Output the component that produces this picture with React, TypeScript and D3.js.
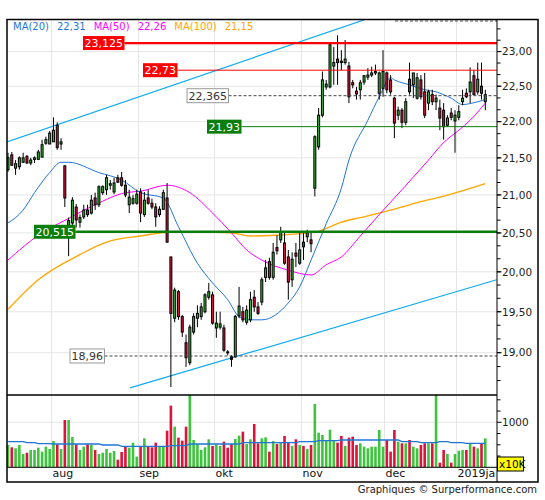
import { useEffect, useRef } from 'react';
import * as d3 from 'd3';

// trading-day index of the first session of each month
const monthStarts = [11, 34, 54, 77, 99, 118];
const monthLabels = ['aug', 'sep', 'okt', 'nov', 'dec', '2019ja'];

// daily candles, jul 17 2018 -> jan 14 2019
const opens = [
  21.34, 21.54, 21.36, 21.38, 21.44, 21.52, 21.43, 21.48, 21.48, 21.51,
  21.70, 21.69, 21.72, 21.95, 21.69, 21.39, 20.60, 20.63, 20.84, 20.64,
  20.71, 20.80, 20.76, 20.96, 20.87, 21.03, 21.07, 21.13, 21.04, 21.23,
  21.23, 21.13, 20.87, 20.89, 20.89, 21.04, 20.74, 20.96, 20.89, 20.84,
  20.74, 20.81, 20.96, 20.19, 19.42, 19.75, 19.44, 19.12, 18.88, 19.25,
  19.42, 19.44, 19.50, 19.68, 19.71, 19.30, 19.31, 19.30, 19.01, 18.95,
  18.95, 19.45, 19.50, 19.37, 19.40, 19.68, 19.56, 19.62, 19.93, 20.13,
  19.93, 20.31, 20.41, 20.37, 20.19, 19.90, 20.24, 20.11, 20.38, 20.45,
  20.41, 21.09, 21.65, 22.09, 22.49, 22.49, 22.79, 22.89, 22.86, 22.84,
  22.79, 22.55, 22.43, 22.45, 22.56, 22.63, 22.66, 22.69, 22.40, 22.47,
  22.69, 22.59, 22.33, 22.09, 22.16, 21.99, 22.60, 22.52, 22.33, 22.59,
  22.42, 22.26, 22.38, 22.28, 22.19, 22.16, 21.95, 22.12, 22.01, 22.06,
  22.28, 22.40, 22.42, 22.65, 22.42, 22.50, 22.28,
];
const highs = [
  21.57, 21.58, 21.47, 21.52, 21.57, 21.54, 21.50, 21.52, 21.61, 21.75,
  21.79, 21.87, 22.06, 21.99, 21.77, 21.40, 20.70, 20.97, 20.88, 20.74,
  20.87, 20.87, 21.00, 21.03, 21.13, 21.13, 21.27, 21.20, 21.23, 21.27,
  21.31, 21.20, 21.07, 21.00, 21.07, 21.09, 21.04, 21.07, 20.95, 20.89,
  20.85, 21.07, 21.16, 20.19, 19.80, 19.77, 19.46, 19.22, 19.34, 19.48,
  19.58, 19.61, 19.73, 19.86, 19.75, 19.50, 19.50, 19.34, 19.03, 18.97,
  19.46, 19.81, 19.56, 19.58, 19.75, 19.77, 19.62, 19.93, 20.15, 20.18,
  20.37, 20.47, 20.58, 20.50, 20.28, 20.25, 20.37, 20.51, 20.51, 20.54,
  20.51, 21.81, 22.19, 22.71, 22.59, 23.12, 23.07, 23.24, 23.02, 23.17,
  22.85, 22.59, 22.49, 22.59, 22.66, 22.76, 22.78, 22.81, 22.71, 23.02,
  22.71, 22.66, 22.35, 22.21, 22.19, 22.33, 22.84, 22.69, 22.69, 22.66,
  22.69, 22.45, 22.45, 22.38, 22.31, 22.26, 22.09, 22.19, 22.16, 22.23,
  22.45, 22.47, 22.77, 22.73, 22.84, 22.84, 22.45,
];
const lows = [
  21.31, 21.39, 21.27, 21.34, 21.43, 21.42, 21.40, 21.43, 21.47, 21.51,
  21.68, 21.69, 21.72, 21.61, 21.61, 20.84, 20.20, 20.60, 20.57, 20.57,
  20.68, 20.71, 20.74, 20.80, 20.84, 21.00, 21.00, 21.07, 21.01, 21.16,
  21.11, 20.97, 20.76, 20.87, 20.87, 20.64, 20.71, 20.87, 20.81, 20.58,
  20.71, 20.80, 20.38, 18.59, 19.37, 19.40, 19.19, 18.83, 18.85, 19.22,
  19.31, 19.40, 19.48, 19.65, 19.34, 19.18, 19.28, 19.01, 18.97, 18.83,
  18.94, 19.42, 19.37, 19.34, 19.37, 19.50, 19.46, 19.58, 19.87, 19.90,
  19.90, 20.22, 20.37, 20.09, 19.65, 19.81, 20.06, 20.09, 20.15, 20.38,
  20.25, 20.98, 21.61, 22.06, 22.45, 22.47, 22.52, 22.52, 22.73, 22.81,
  22.26, 22.47, 22.31, 22.31, 22.52, 22.59, 22.63, 22.66, 22.31, 22.35,
  22.40, 22.38, 21.77, 22.02, 21.91, 21.95, 22.38, 22.33, 22.31, 22.31,
  22.05, 22.16, 22.23, 22.16, 21.88, 21.75, 21.93, 22.02, 21.57, 22.02,
  22.23, 22.33, 22.26, 22.38, 22.38, 22.31, 22.16,
];
const closes = [
  21.50, 21.40, 21.42, 21.50, 21.50, 21.43, 21.47, 21.50, 21.58, 21.68,
  21.75, 21.84, 21.88, 21.64, 21.72, 20.96, 20.66, 20.93, 20.67, 20.70,
  20.80, 20.74, 20.93, 20.87, 21.11, 21.11, 21.23, 21.15, 21.16, 21.17,
  21.13, 21.00, 20.97, 20.95, 21.01, 20.76, 20.93, 20.89, 20.84, 20.71,
  20.81, 21.03, 20.38, 19.48, 19.77, 19.44, 19.25, 18.94, 19.31, 19.44,
  19.48, 19.56, 19.71, 19.75, 19.36, 19.36, 19.35, 19.03, 19.00, 18.92,
  19.44, 19.57, 19.40, 19.52, 19.65, 19.56, 19.48, 19.90, 20.05, 19.93,
  20.25, 20.27, 20.51, 20.11, 19.87, 20.16, 20.20, 20.28, 20.32, 20.50,
  20.36, 21.79, 22.09, 22.59, 22.53, 23.10, 22.84, 22.84, 22.84, 22.89,
  22.35, 22.52, 22.39, 22.55, 22.65, 22.66, 22.69, 22.71, 22.69, 22.71,
  22.45, 22.42, 21.98, 22.16, 21.99, 22.28, 22.42, 22.69, 22.62, 22.35,
  22.09, 22.42, 22.28, 22.33, 22.05, 21.93, 22.05, 22.06, 22.09, 22.14,
  22.33, 22.35, 22.56, 22.38, 22.60, 22.40, 22.38,
];
// volume in x10K
const volumes = [
  496, 444, 422, 496, 296, 324, 385, 385, 436, 348,
  459, 407, 585, 511, 407, 1051, 1051, 674, 511, 385,
  459, 511, 496, 385, 296, 324, 407, 324, 363, 170,
  341, 459, 436, 548, 237, 459, 644, 459, 444, 548,
  474, 474, 814, 1370, 903, 659, 593, 903, 1750, 607,
  518, 385, 444, 622, 474, 511, 474, 570, 436, 518,
  629, 703, 792, 518, 622, 962, 533, 644, 666, 348,
  585, 518, 548, 696, 548, 474, 622, 496, 474, 407,
  496, 1407, 770, 718, 593, 836, 607, 548, 696, 474,
  659, 681, 496, 533, 459, 422, 459, 459, 829, 459,
  607, 348, 829, 570, 533, 533, 607, 459, 422, 496,
  533, 533, 533, 1750, 103, 385, 296, 103, 296, 370,
  385, 385, 533, 459, 422, 533, 644,
];

// moving averages
const ma20Idx = [0, 4, 7, 11, 14, 16, 24, 30, 35, 41, 45, 50, 54, 58, 61, 64, 67, 74, 77, 80, 84, 88, 90, 95, 98, 101, 102, 106, 110, 113, 117, 120, 124, 126];
const ma20Val = [20.63, 20.80, 21.03, 21.30, 21.44, 21.44, 21.30, 21.20, 21.03, 20.96, 20.58, 20.11, 19.86, 19.65, 19.44, 19.40, 19.40, 19.61, 19.81, 20.15, 20.62, 21.09, 21.47, 22.02, 22.35, 22.62, 22.59, 22.52, 22.45, 22.42, 22.33, 22.24, 22.28, 22.31];
const ma50Idx = [0, 8, 16, 23, 31, 35, 42, 48, 54, 59, 63, 67, 74, 80, 84, 88, 93, 98, 104, 111, 115, 119, 122, 126];
const ma50Val = [20.15, 20.47, 20.69, 20.87, 21.03, 21.05, 21.13, 21.03, 20.76, 20.50, 20.28, 20.15, 20.02, 19.96, 20.09, 20.19, 20.46, 20.74, 21.07, 21.47, 21.71, 21.88, 22.02, 22.26];
const ma100Idx = [0, 8, 19, 26, 35, 43, 51, 59, 64, 71, 77, 82, 85, 88, 93, 98, 104, 109, 114, 119, 126];
const ma100Val = [19.53, 19.90, 20.22, 20.38, 20.46, 20.51, 20.51, 20.50, 20.46, 20.47, 20.49, 20.52, 20.58, 20.64, 20.70, 20.76, 20.84, 20.91, 20.97, 21.04, 21.15];
const maNames = ['MA(20)', 'MA(50)', 'MA(100)'];
const maLast = [22.31, 22.26, 21.15];

const volMaIdx = [0, 4, 5, 7, 8, 11, 12, 24, 25, 29, 30, 42, 43, 47, 48, 61, 62, 76, 77, 81, 82, 87, 88, 103, 104, 108, 109, 113, 114, 116, 117, 120, 121, 126];
const volMaVal = [570, 570, 548, 548, 526, 526, 518, 518, 496, 496, 466, 466, 481, 481, 518, 518, 548, 548, 570, 570, 592, 592, 607, 607, 570, 570, 548, 548, 570, 570, 548, 548, 533, 533];

// trend lines (two anchors each: day index, price)
const trendUpIdx = [-0.8, 85.8];
const trendUpVal = [21.71, 23.31];
const trendLowIdx = [32.2, 129.0];
const trendLowVal = [18.58, 19.9];

// horizontal levels
const levelValues = [23.125, 22.73, 22.365, 21.93, 20.515, 18.96];
const topDashLevel = 23.45;

const priceTicks = [19, 19.5, 20, 20.5, 21, 21.5, 22, 22.5, 23];

const GREEN = '#0a7d0a';
const RED = '#ff0000';
const levelStyles = [
  { left: 83, stroke: RED, width: 2.2, dash: null, fill: RED, text: '#fff' },
  { left: 143, stroke: RED, width: 1, dash: null, fill: RED, text: '#fff' },
  { left: 187, stroke: '#444', width: 1, dash: '3,2', fill: '#fff', text: '#333' },
  { left: 207, stroke: GREEN, width: 1, dash: null, fill: GREEN, text: '#fff' },
  { left: 34, stroke: GREEN, width: 2.5, dash: null, fill: GREEN, text: '#fff' },
  { left: 70, stroke: '#444', width: 1, dash: '3,2', fill: '#fff', text: '#333' },
];

const comma = (v: number, d: number) => d3.format(`.${d}f`)(v).replace('.', ',');

export default function App() {
  const ref = useRef<SVGSVGElement>(null);

  useEffect(() => {
    if (!ref.current) return;
    const svg = d3.select(ref.current);
    svg.selectAll('*').remove();
    const font = '"DejaVu Sans", Verdana, sans-serif';

    const L = 7, R = 497, T = 20, MB = 395, VB = 467.3, FB = 482, FR = 538;

    const x = d3.scaleLinear().domain([0, 118]).range([8, 455]);
    const y = d3.scaleLog().domain([18.5, 23.47]).range([394.7, 19.7]);
    const yv = d3.scaleLinear().domain([0, 1000]).range([VB, VB - 45]);

    const defs = svg.append('defs');
    defs.append('clipPath').attr('id', 'clipMain').append('rect').attr('x', L).attr('y', T).attr('width', R - L).attr('height', MB - T);
    defs.append('clipPath').attr('id', 'clipVol').append('rect').attr('x', L).attr('y', MB).attr('width', R - L).attr('height', VB - MB);

    svg.append('rect').attr('width', 545).attr('height', 500).attr('fill', '#fff');

    // grid
    const grid = svg.append('g').attr('stroke', '#e6e6e6').attr('stroke-width', 1);
    priceTicks.forEach((p) => {
      grid.append('line').attr('x1', L).attr('x2', R).attr('y1', y(p)).attr('y2', y(p));
    });
    grid.append('line').attr('x1', L).attr('x2', R).attr('y1', yv(1000)).attr('y2', yv(1000));
    monthStarts.forEach((i) => {
      const gx = Math.round(x(i)) + 1.5;
      grid.append('line').attr('x1', gx).attr('x2', gx).attr('y1', T).attr('y2', VB);
    });

    const main = svg.append('g').attr('clip-path', 'url(#clipMain)');

    // trend lines
    const trend = (idx: number[], val: number[], from: number, to: number) => {
      const x1 = x(idx[0]), y1 = y(val[0]), x2 = x(idx[1]), y2 = y(val[1]);
      const k = (y2 - y1) / (x2 - x1);
      const a = x(from), b = x(to);
      main.append('line')
        .attr('x1', a).attr('y1', y1 + k * (a - x1))
        .attr('x2', b).attr('y2', y1 + k * (b - x1))
        .attr('stroke', '#11aaee').attr('stroke-width', 1.2);
    };
    trend(trendUpIdx, trendUpVal, trendUpIdx[0], 140);
    trend(trendLowIdx, trendLowVal, trendLowIdx[0], trendLowIdx[1]);

    // moving averages
    const maLine = d3.line<[number, number]>().x((d) => x(d[0])).y((d) => y(d[1])).curve(d3.curveMonotoneX);
    const drawMa = (idx: number[], val: number[], color: string, w: number) => {
      main.append('path')
        .datum(idx.map((d, k) => [d, val[k]] as [number, number]))
        .attr('fill', 'none').attr('stroke', color).attr('stroke-width', w)
        .attr('d', maLine);
    };
    drawMa(ma100Idx, ma100Val, '#ffa500', 1.3);
    drawMa(ma50Idx, ma50Val, '#ff00ff', 1);
    drawMa(ma20Idx, ma20Val, '#1f75d6', 1);

    // candles
    const candles = main.append('g');
    opens.forEach((o, i) => {
      const c = closes[i];
      const cx = x(i);
      candles.append('line')
        .attr('x1', cx).attr('x2', cx)
        .attr('y1', y(highs[i])).attr('y2', y(lows[i]))
        .attr('stroke', '#000').attr('stroke-width', 1);
      const top = y(Math.max(o, c));
      const h = Math.max(1, Math.abs(y(o) - y(c)));
      candles.append('rect')
        .attr('x', cx - 1).attr('y', top).attr('width', 2).attr('height', h)
        .attr('fill', c >= o ? '#35b935' : '#dc143c')
        .attr('stroke', '#000').attr('stroke-width', 1);
    });

    // top dashed level
    main.append('line')
      .attr('x1', 395).attr('x2', R).attr('y1', y(topDashLevel)).attr('y2', y(topDashLevel))
      .attr('stroke', '#555').attr('stroke-dasharray', '3,2');

    // horizontal levels with boxes
    levelValues.forEach((v, k) => {
      const st = levelStyles[k];
      const ly = y(v);
      const label = comma(v, String(v).split('.')[1]?.length === 3 ? 3 : 2);
      const t = svg.append('text')
        .attr('font-family', font).attr('font-size', 11).attr('fill', st.text)
        .text(label);
      const tw = (t.node() as SVGTextElement).getComputedTextLength();
      const bw = tw + 3;
      const line = main.append('line')
        .attr('x1', st.left + bw).attr('x2', R).attr('y1', ly).attr('y2', ly)
        .attr('stroke', st.stroke).attr('stroke-width', st.width);
      if (st.dash) line.attr('stroke-dasharray', st.dash);
      svg.insert('rect', () => t.node() as any)
        .attr('x', st.left).attr('y', ly - 7).attr('width', bw).attr('height', 14)
        .attr('fill', st.fill)
        .attr('stroke', st.fill === '#fff' ? '#999' : 'none');
      t.attr('x', st.left + 1.5).attr('y', ly + 4);
    });

    // volume
    const vol = svg.append('g').attr('clip-path', 'url(#clipVol)');
    volumes.forEach((v, i) => {
      vol.append('rect')
        .attr('x', x(i) - 1.3).attr('width', 2.6)
        .attr('y', yv(v)).attr('height', VB - yv(v))
        .attr('fill', closes[i] >= opens[i] ? '#3ec43e' : '#dc143c');
    });
    vol.append('path')
      .datum(volMaIdx.map((d, k) => [d, volMaVal[k]] as [number, number]))
      .attr('fill', 'none').attr('stroke', '#1f75d6').attr('stroke-width', 1.3)
      .attr('d', d3.line<[number, number]>().x((d) => x(d[0])).y((d) => yv(d[1])));

    // frame and axes
    const ax = svg.append('g').attr('stroke', '#000').attr('fill', 'none');
    ax.append('rect').attr('x', L).attr('y', 19.5).attr('width', FR - L).attr('height', FB - 19.5).attr('stroke-width', 1.5);
    ax.append('line').attr('x1', R).attr('x2', R).attr('y1', 19.5).attr('y2', FB);
    ax.append('line').attr('x1', L).attr('x2', R).attr('y1', MB).attr('y2', MB).attr('stroke-width', 1.3);
    ax.append('line').attr('x1', L).attr('x2', R).attr('y1', VB).attr('y2', VB);

    // price ticks
    const minor: number[] = [];
    for (let p = 18.5; p < 23.5; p += 0.5 / 3) minor.push(p);
    minor.forEach((p) => {
      const ty = y(p);
      if (ty < T + 1 || ty > MB - 1) return;
      ax.append('line').attr('x1', R).attr('x2', R + 3.5).attr('y1', ty).attr('y2', ty);
    });
    priceTicks.forEach((p) => {
      ax.append('line').attr('x1', R).attr('x2', R + 4.5).attr('y1', y(p)).attr('y2', y(p));
      svg.append('text')
        .attr('x', R + 5).attr('y', y(p)).attr('dy', '0.36em')
        .attr('font-family', font).attr('font-size', 10.5).attr('fill', '#222')
        .text(comma(p, 2));
    });

    // volume ticks
    [250, 500, 750, 1000, 1250, 1500].forEach((v) => {
      ax.append('line').attr('x1', R).attr('x2', R + (v === 1000 ? 4.5 : 3.5)).attr('y1', yv(v)).attr('y2', yv(v));
    });
    svg.append('text')
      .attr('x', R + 5).attr('y', yv(1000)).attr('dy', '0.36em')
      .attr('font-family', font).attr('font-size', 10.5).attr('fill', '#222')
      .text('1000');
    svg.append('rect').attr('x', R + 0.5).attr('y', 457).attr('width', 26).attr('height', 14)
      .attr('fill', '#ffff00').attr('stroke', '#000');
    svg.append('text').attr('x', R + 2).attr('y', 468)
      .attr('font-family', font).attr('font-size', 10.5).attr('fill', '#000').text('x10K');

    // month labels
    monthStarts.forEach((i, k) => {
      svg.append('text')
        .attr('x', Math.round(x(i)) + 2.5).attr('y', 477)
        .attr('font-family', font).attr('font-size', 11).attr('fill', '#111')
        .text(monthLabels[k]);
    });

    // legend
    const maColors = ['#1f75d6', '#ff00ff', '#ffa500'];
    let lx = 13;
    maNames.forEach((n, k) => {
      [n, comma(maLast[k], 2)].forEach((s) => {
        const t = svg.append('text')
          .attr('x', lx).attr('y', 30)
          .attr('font-family', font).attr('font-size', 10).attr('fill', maColors[k])
          .text(s);
        lx += (t.node() as SVGTextElement).getComputedTextLength() + 8;
      });
    });

    svg.append('text')
      .attr('x', 537).attr('y', 493).attr('text-anchor', 'end')
      .attr('font-family', font).attr('font-size', 10).attr('fill', '#222')
      .text('Graphiques © Surperformance.com');
  }, []);

  return <svg ref={ref} width={545} height={500} style={{ position: 'absolute', left: 0, top: 0 }} />;
}
